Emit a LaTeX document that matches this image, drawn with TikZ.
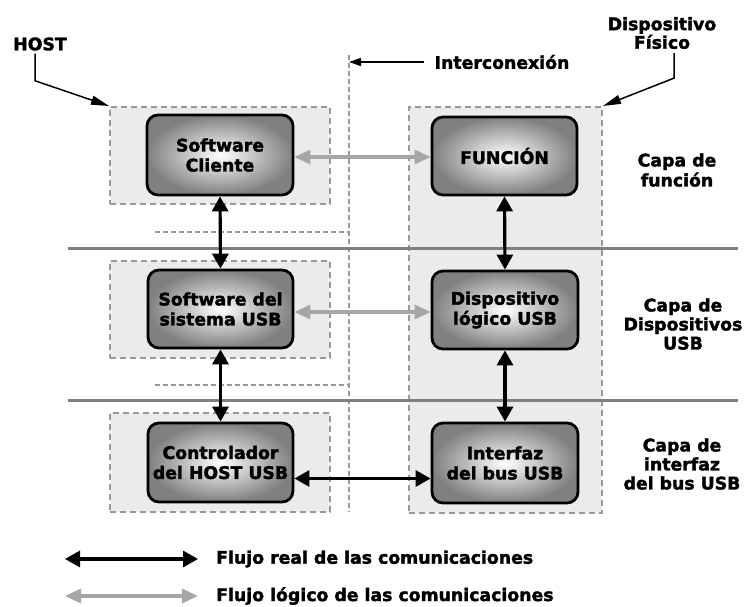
\documentclass[tikz,border=0pt]{standalone}
\usepackage{fontspec}
\setmainfont{DejaVu Sans}[BoldFeatures={FakeBold=2}]
\usetikzlibrary{arrows.meta,calc}

\tikzset{
  layerbox/.style={draw=black!40, fill=black!8, line width=2pt,
    dash pattern=on 6pt off 4pt, inner sep=0pt},
  block/.style={draw=black, line width=2.8pt, rounded corners=11pt,
    shading=radial, inner color=white, outer color=black!50,
    align=center, inner sep=2pt},
  real/.style={draw=black, line width=3.2pt, {Triangle[length=15pt,width=16pt]}-{Triangle[length=15pt,width=16pt]}},
  logic/.style={draw=black!35, line width=3.2pt, {Triangle[length=16pt,width=14pt]}-{Triangle[length=16pt,width=14pt]}},
  pointer/.style={draw=black, line width=1.5pt, -{Triangle[length=18pt,width=9pt]}},
  layerline/.style={draw=black!50, line width=3pt},
  sepline/.style={draw=black!40, line width=1.8pt, dash pattern=on 5pt off 3pt},
  label/.style={align=center, inner sep=0pt}
}

\begin{document}
\begin{tikzpicture}[x=1pt, y=-1pt, font=\fontsize{17.3}{20}\selectfont\bfseries]
  \useasboundingbox (0,0) rectangle (744,607);
  \fill[white] (0,0) rectangle (744,607);

  % grey panels grouping host and device parts of each layer
  \node[layerbox, minimum width=220pt, minimum height=97pt] (hf) at (220,155.5) {};
  \node[layerbox, minimum width=220pt, minimum height=97pt] (hd) at (220,309.5) {};
  \node[layerbox, minimum width=220pt, minimum height=99pt] (hb) at (220,462.5) {};
  \node[layerbox, minimum width=193pt, minimum height=406pt] (dev) at (505.5,310) {};

  % interconnect line and the layer boundaries
  \coordinate (bustop) at (349,55);
  \coordinate (busbot) at (349,512);
  \draw[sepline] (bustop) -- (busbot);
  \coordinate (s1a) at (155,232);
  \coordinate (s2a) at (155,385);
  \draw[sepline] (s1a) -- (s1a -| bustop);
  \draw[sepline] (s2a) -- (s2a -| bustop);
  \coordinate (l1a) at (68,248);
  \coordinate (l1b) at (738,248);
  \coordinate (l2a) at (68,400);
  \coordinate (l2b) at (738,400);
  \draw[layerline] (l1a) -- (l1b);
  \draw[layerline] (l2a) -- (l2b);

  % functional blocks
  \node[block, minimum width=146pt, minimum height=80pt] (sc) at (220,155) {Software\\Cliente};
  \node[block, minimum width=145pt, minimum height=78pt] (ss) at (220.5,309) {Software del\\sistema USB};
  \node[block, minimum width=145pt, minimum height=79pt] (hc) at (220.5,462.5) {Controlador\\del HOST USB};
  \node[block, minimum width=145pt, minimum height=78pt] (fn) at (504.5,156) {FUNCIÓN};
  \node[block, minimum width=146pt, minimum height=78pt] (dl) at (505,310) {Dispositivo\\lógico USB};
  \node[block, minimum width=146pt, minimum height=80pt] (bi) at (505,463) {Interfaz\\del bus USB};

  % communication flows
  \draw[logic] ([yshift=-2pt]sc.east) -- ([yshift=-2pt]sc.east -| fn.west);
  \draw[logic] ([yshift=-3pt]ss.east) -- ([yshift=-3pt]ss.east -| dl.west);
  \draw[real] (sc.south) -- (ss.north);
  \draw[real] (ss.south) -- (hc.north);
  \draw[real] (fn.south) -- (dl.north);
  \draw[real] (dl.south) -- (bi.north);
  \draw[real] ([yshift=-16pt]hc.east) -- ([yshift=-16pt]hc.east -| bi.west);

  % titles and pointers
  \node[label] (host) at (40,44) {HOST};
  \draw[pointer] ($(host.south)+(-5,3)$) -- ++(0,27) -- (hf.north west);

  \node[label, font=\fontsize{17.3}{18.5}\selectfont\bfseries] (phys) at (662,33) {Dispositivo\\Físico};
  \draw[pointer] ($(phys.south)+(12,4)$) -- ++(0,25) -- (dev.north east);

  \node[label] (ic) at (502,62) {Interconexión};
  \draw[pointer, -{Triangle[length=12pt,width=8pt]}] ($(ic.west)+(-10,0)$) -- (ic.west -| bustop);

  % layer names
  \node[label] (cf) at (677,170) {Capa de\\función};
  \node[label, font=\fontsize{17.3}{19}\selectfont\bfseries] (cd) at (683,324) {Capa de\\Dispositivos\\USB};
  \node[label, font=\fontsize{17.3}{19}\selectfont\bfseries] (ci) at (682,464) {Capa de\\interfaz\\del bus USB};

  % legend
  \coordinate (ra) at (65,559);
  \coordinate (rb) at (198,559);
  \coordinate (ga) at (65,596);
  \coordinate (gb) at (198,596);
  \draw[real] (ra) -- (rb);
  \draw[logic] (ga) -- (gb);
  \node[label, anchor=west] (lr) at (216,559) {Flujo real de las comunicaciones};
  \node[label, anchor=west] (lg) at (216,596) {Flujo lógico de las comunicaciones};
\end{tikzpicture}
\end{document}
